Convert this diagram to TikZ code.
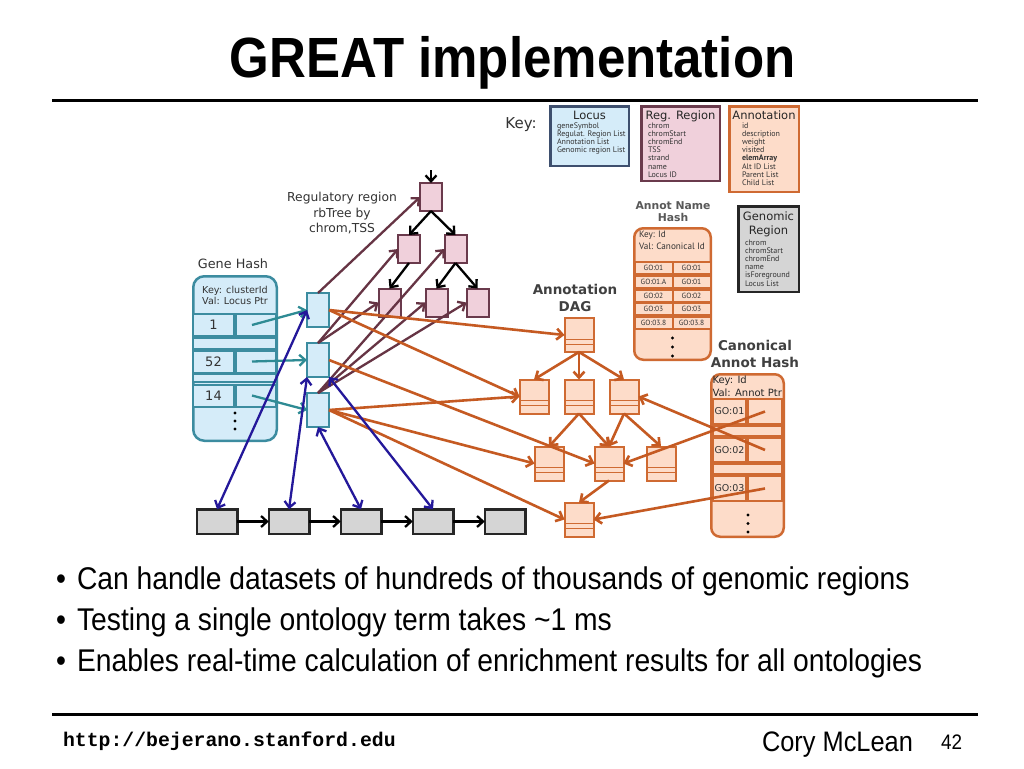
\documentclass[tikz,border=0pt]{standalone}
\usepackage{fontspec}
\setmainfont[FakeStretch=0.9]{Liberation Sans}
\setmonofont{Liberation Mono}
\newfontfamily\lblfont{DejaVu Sans}
\newfontfamily\keyfont{PT Sans}
\usetikzlibrary{arrows.meta, positioning}

\definecolor{locusfill}{HTML}{D5ECF9}
\definecolor{locuskey}{HTML}{3E4F6E}
\definecolor{ghedge}{HTML}{3C8CA0}
\definecolor{tealarrow}{HTML}{2E8B94}
\definecolor{regfill}{HTML}{F0D0DB}
\definecolor{regedge}{HTML}{6A3A4C}
\definecolor{regarrow}{HTML}{663444}
\definecolor{annotfill}{HTML}{FDDCC9}
\definecolor{annotedge}{HTML}{CF6A32}
\definecolor{orangearrow}{HTML}{C55A22}
\definecolor{genfill}{HTML}{D5D5D5}
\definecolor{genedge}{HTML}{262626}
\definecolor{bluearrow}{HTML}{24189A}
\definecolor{labelgray}{HTML}{333333}

\begin{document}
\begin{tikzpicture}[x=1pt, y=-1pt,
  every node/.style={inner sep=0pt, outer sep=0pt},
  lbl/.style={font=\lblfont\fontsize{12.3}{15.5}\selectfont, text=labelgray, align=center},
  boldlbl/.style={font=\lblfont\bfseries\fontsize{13.5}{17.5}\selectfont, text=black!75, align=center},
  keytitle/.style={font=\lblfont\fontsize{11.5}{14}\selectfont, text=black!85, align=center, anchor=base},
  keylist/.style={font=\keyfont\fontsize{8}{8.2}\selectfont, text=black!80, align=left, anchor=north west},
  locnode/.style={draw=ghedge, fill=locusfill, line width=2pt, minimum width=22pt, minimum height=34pt},
  regnode/.style={draw=regedge, fill=regfill, line width=2pt, minimum width=22pt, minimum height=28pt},
  dagnode/.style={draw=annotedge, fill=annotfill, line width=2pt, minimum width=29pt, minimum height=34pt,
    path picture={\draw[annotedge, line width=0.6pt] ([yshift=-4pt]path picture bounding box.west)
      rectangle ([yshift=-9pt]path picture bounding box.east);}},
  gennode/.style={draw=genedge, fill=genfill, line width=2.5pt, minimum width=40.5pt, minimum height=24.5pt},
  ghcell/.style={draw=ghedge, fill=locusfill, line width=2pt, minimum height=22pt,
    font=\lblfont\fontsize{13}{13}\selectfont, text=labelgray},
  ancell/.style={fill=annotfill, minimum width=36pt, minimum height=10pt,
    font=\keyfont\fontsize{7.5}{8}\selectfont, text=labelgray},
  cacell/.style={draw=annotedge, fill=annotfill, line width=2pt,
    font=\lblfont\fontsize{9.5}{9.5}\selectfont, text=labelgray},
  arr/.style={line width=2.3pt, -{Straight Barb[length=6pt, width=11pt]}},
  dblarr/.style={line width=2.3pt, {Straight Barb[length=6pt, width=11pt]}-{Straight Barb[length=6pt, width=11pt]}},
]
\fill[white] (0,0) rectangle (1024,768);

% title and rules
\node[anchor=base, font=\bfseries\fontsize{56.7}{60}\selectfont] (title) at (512.5,77.5) {GREAT implementation};
\draw[line width=3pt] (52,100) -- (978,100);
\draw[line width=3pt] (52,714) -- (978,714);

% key
\node[font=\lblfont\fontsize{15}{15}\selectfont, text=black!80, anchor=base] (keylbl) at (521,128) {Key:};
\node[draw=locuskey, fill=locusfill, line width=2.5pt, minimum width=78.5pt, minimum height=59.5pt] (keylocus) at (589.5,136) {};
\node[keytitle] (keylocusttl) at (589.5,119) {Locus};
\node[keylist] (keylocuslist) at (557,122.5) {geneSymbol\\Regulat. Region List\\Annotation List\\Genomic region List};
\node[draw=regedge, fill=regfill, line width=2.5pt, minimum width=78.5pt, minimum height=74.5pt] (keyreg) at (680.5,143.5) {};
\node[keytitle] (keyregttl) at (680.5,119) {Reg. Region};
\node[keylist] (keyreglist) at (648,122.5) {chrom\\chromStart\\chromEnd\\TSS\\strand\\name\\Locus ID};
\node[draw=annotedge, fill=annotfill, line width=2.5pt, minimum width=69.5pt, minimum height=85.5pt] (keyannot) at (764,149) {};
\node[keytitle] (keyannotttl) at (764,119) {Annotation};
\node[keylist] (keyannotlist) at (742,122.5) {id\\description\\weight\\visited\\\textbf{elemArray}\\Alt ID List\\Parent List\\Child List};
\node[draw=genedge, fill=genfill, line width=2.5pt, minimum width=60.5pt, minimum height=85.5pt] (keygen) at (768.5,249) {};
\node[keytitle, anchor=north] (keygenttl) at (768.5,211.5) {Genomic\\Region};
\node[keylist] (keygenlist) at (745,239.5) {chrom\\chromStart\\chromEnd\\name\\isForeground\\Locus List};

% gene hash
\node[lbl, anchor=base, font=\lblfont\fontsize{12.8}{15}\selectfont] (ghlbl) at (233,268) {Gene Hash};
\node[draw=ghedge, fill=locusfill, line width=2.5pt, rounded corners=11pt, minimum width=83.5pt, minimum height=164.5pt] (genehash) at (235,358.5) {};
\node[lbl, anchor=north, font=\lblfont\fontsize{9.6}{11}\selectfont] (ghhead) at (235,286.5) {Key: clusterId\\Val: Locus Ptr};
\foreach \i/\k/\y in {1/1/325, 2/52/361.5, 3/14/395.5} {
  \node[ghcell, minimum width=41pt] (ghk\i) at (213.5,\y) {\k};
  \node[ghcell, minimum width=40pt] (ghv\i) at (256,\y) {};
}
\node[ghcell, minimum width=83pt, minimum height=11pt] (ghband1) at (234.5,343.5) {};
\node[ghcell, minimum width=83pt, minimum height=8pt] (ghband2) at (234.5,378) {};
\foreach \y in {413,421,429} \fill (235,\y) circle (1.6pt);

% locus nodes
\node[locnode] (loc1) at (318,310) {};
\node[locnode] (loc2) at (318,360) {};
\node[locnode] (loc3) at (318,410) {};

% regulatory region tree
\node[lbl, anchor=north] (reglbl) at (342,192.5) {Regulatory region\\rbTree by\\chrom,TSS};
\node[regnode] (r0) at (431,197) {};
\node[regnode] (r1a) at (409,249) {};
\node[regnode] (r1b) at (455.5,249) {};
\node[regnode] (r2a) at (389.5,302.5) {};
\node[regnode] (r2b) at (436.5,302.5) {};
\node[regnode] (r2c) at (477.5,302.5) {};
\coordinate (rtop) at (431,170);

% genomic regions
\foreach \i in {1,...,5}
  \node[gennode] (g\i) at ({217+72*(\i-1)},521.5) {};

% annotation DAG
\node[boldlbl, anchor=north] (daglbl) at (575,284) {Annotation\\DAG};
\foreach \n/\x/\y in {d0/579/335, d2a/534/396.5, d2b/579/396.5, d2c/624/396.5,
    d3a/549/463.5, d3b/609/463.5, d3c/661/463.5, d4/579/519.5}
  \node[dagnode] (\n) at (\x,\y) {};

% annot name hash
\node[boldlbl, anchor=north, font=\lblfont\bfseries\fontsize{10.8}{12}\selectfont, text=black!65] (anlbl) at (673,202) {Annot Name\\Hash};
\node[draw=annotedge, fill=annotfill, line width=2.5pt, rounded corners=9pt, minimum width=76.5pt, minimum height=131.5pt] (anhash) at (672.5,294) {};
\node[anchor=north west, font=\keyfont\fontsize{9.2}{12}\selectfont, text=labelgray, align=left] (anhead) at (639,231.5) {Key: Id\\Val: Canonical Id};
\fill[annotedge] (634.5,260.5) rectangle (710.5,329.5);
\foreach \i/\k/\v/\y in {1/GO:01/GO:01/267.5, 2/GO:01.A/GO:01/281.5, 3/GO:02/GO:02/295.5,
    4/GO:03/GO:03/309, 5/GO:03.8/GO:03.8/322.5} {
  \node[ancell] (ank\i) at (653.5,\y) {\k};
  \node[ancell] (anv\i) at (691.5,\y) {\v};
}
\foreach \y in {338,347,356} \fill (672.5,\y) circle (1.6pt);

% canonical annot hash
\node[boldlbl, anchor=north] (calbl) at (755,340) {Canonical\\Annot Hash};
\node[draw=annotedge, fill=annotfill, line width=2.5pt, rounded corners=9pt, minimum width=72.5pt, minimum height=162.5pt] (cahash) at (747.5,455.5) {};
\node[anchor=north west, font=\lblfont\fontsize{10}{13}\selectfont, text=black!85, align=left] (cahead) at (712.5,375.5) {Key: Id\\Val: Annot Ptr};
\foreach \i/\y/\h in {1/411.5/25, 2/450/24, 3/488.5/25} {
  \node[cacell, minimum width=33pt, minimum height=\h pt] (cak\i) at (729.5,\y) {GO:0\i};
  \node[cacell, minimum width=34pt, minimum height=\h pt] (cav\i) at (765,\y) {};
}
\node[cacell, minimum width=69pt, minimum height=10pt] (caband1) at (747.5,431) {};
\node[cacell, minimum width=69pt, minimum height=10pt] (caband2) at (747.5,469) {};
\foreach \y in {515,523.5,532} \fill (748,\y) circle (1.6pt);

% arrows
\draw[arr, black] (rtop) -- (r0);
\foreach \a/\b in {r0/r1a, r0/r1b, r1a/r2a, r1b/r2b, r1b/r2c}
  \draw[arr, black] (\a.south) -- (\b.north);
\foreach \a/\b in {loc1/r0, loc2/r1a, loc2/r2a, loc3/r1b, loc3/r2b, loc3/r2c}
  \draw[arr, regarrow] (\a.north) -- (\b.west);
\foreach \i in {1,2,3}
  \draw[arr, tealarrow] ([xshift=-4pt]ghv\i.center) -- (loc\i.west);
\foreach \a/\b in {loc1/d0, loc1/d2a, loc2/d3b, loc3/d2a, loc3/d3a, loc3/d4}
  \draw[arr, orangearrow, line width=2.6pt] (\a.east) -- (\b.west);
\foreach \a/\b in {d0/d2a, d0/d2b, d0/d2c, d2b/d3a, d2b/d3b, d2c/d3b, d2c/d3c, d3b/d4}
  \draw[arr, orangearrow, line width=2.6pt] (\a.south) -- (\b.north);
\foreach \a/\b in {cav1/d3b, cav2/d2c, cav3/d4}
  \draw[arr, orangearrow, line width=2.6pt] (\a.center) -- (\b.east);
\foreach \i [count=\j from 2] in {1,...,4}
  \draw[arr, black] (g\i) -- (g\j);
\draw[dblarr, bluearrow] (loc1.west) -- (g1.north);
\draw[dblarr, bluearrow] (loc2.south west) -- (g2.north);
\draw[dblarr, bluearrow] (loc3.south) -- (g3.north);
\draw[dblarr, bluearrow] (loc2.south east) -- (g4.north);

% bullets
\foreach \y/\t in {589/Can handle datasets of hundreds of thousands of genomic regions,
    630.5/Testing a single ontology term takes \textasciitilde1 ms,
    671.5/Enables real-time calculation of enrichment results for all ontologies} {
  \node[anchor=base west, font=\fontsize{31.4}{36}\selectfont] at (56,\y) {\textbullet};
  \node[anchor=base west, font=\fontsize{31.4}{36}\selectfont] at (77,\y) {\t};
}

% footer
\node[anchor=base west, font=\ttfamily\bfseries\fontsize{19.8}{22}\selectfont] (url) at (63,746) {http://bejerano.stanford.edu};
\node[anchor=base west, font=\fontsize{28.2}{30}\selectfont] (author) at (762,751) {Cory McLean};
\node[anchor=base west, font=\fontsize{21}{24}\selectfont] (page) at (941,749) {42};
\end{tikzpicture}
\end{document}
